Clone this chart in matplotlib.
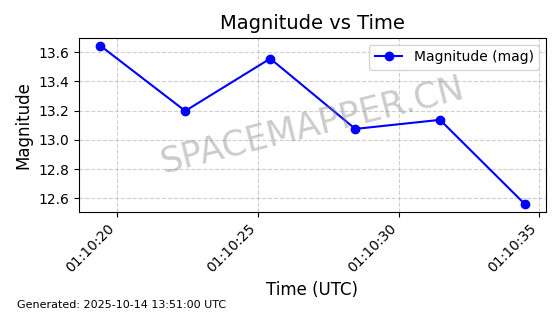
import matplotlib
matplotlib.use('Agg')
import matplotlib.pyplot as plt
import matplotlib.dates as mdates
import pandas as pd

# observation data
times = ['2025-10-14 01:10:19.40', '2025-10-14 01:10:22.42', '2025-10-14 01:10:25.44',
         '2025-10-14 01:10:28.46', '2025-10-14 01:10:31.47', '2025-10-14 01:10:34.48']
magnitudes = [13.646, 13.198, 13.557, 13.075, 13.137, 12.560]

t = pd.to_datetime(times)

fig, ax = plt.subplots(figsize=(5.6, 3.14), dpi=100)
ax.plot(t, magnitudes, color='blue', marker='o', markersize=6, linewidth=1.5, label='Magnitude (mag)')
ax.set_title('Magnitude vs Time', fontsize=14)
ax.set_xlabel('Time (UTC)', fontsize=12)
ax.set_ylabel('Magnitude', fontsize=12)
ax.xaxis.set_major_formatter(mdates.DateFormatter('%H:%M:%S'))
ax.xaxis.set_major_locator(mdates.SecondLocator(bysecond=range(0, 60, 5)))
plt.setp(ax.get_xticklabels(), rotation=45, ha='right')
ax.grid(True, linestyle='--', alpha=0.6)
ax.legend(loc='upper right')

# watermark
ax.text(0.5, 0.5, 'SPACEMAPPER.CN', transform=ax.transAxes, fontsize=25, color='gray',
        alpha=0.4, rotation=14, ha='center', va='center')

fig.text(0.03, 0.02, 'Generated: 2025-10-14 13:51:00 UTC', fontsize=8)
fig.subplots_adjust(left=0.141, right=0.975, top=0.88, bottom=0.325)
fig.savefig('out.png', dpi=100)
